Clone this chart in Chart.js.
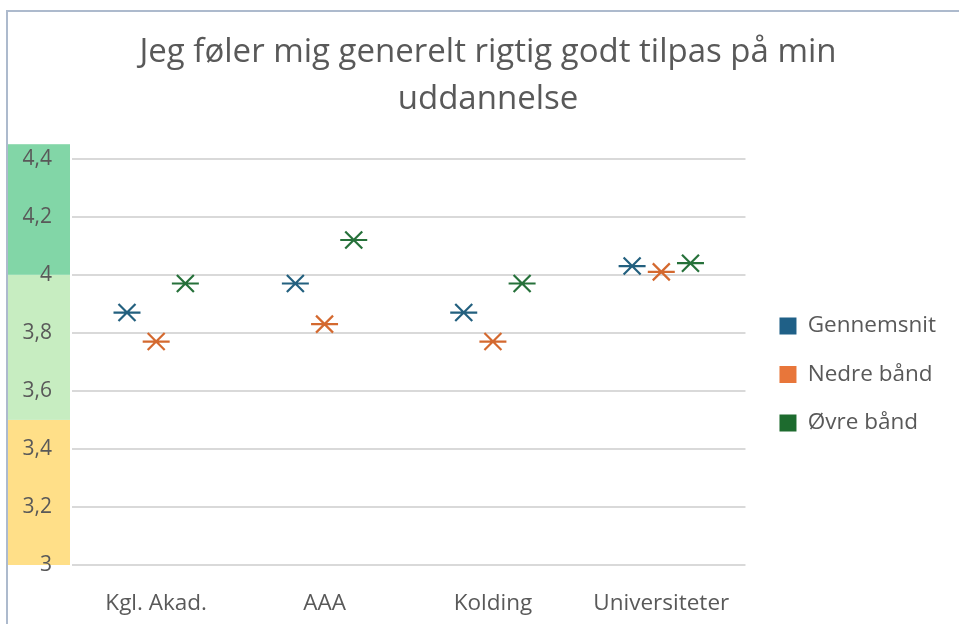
<!DOCTYPE html>
<html>
<head>
<meta charset="utf-8">
<script src="https://cdn.jsdelivr.net/npm/chart.js@4.4.1/dist/chart.umd.min.js"></script>
<style>
  html, body { margin: 0; padding: 0; background: #fff; }
  #wrap { position: relative; width: 959px; height: 624px; }
</style>
</head>
<body>
<div id="wrap"><canvas id="chart" width="959" height="624"></canvas></div>
<script>
// Data
const categories = ['Kgl. Akad.', 'AAA', 'Kolding', 'Universiteter'];
const gennemsnit = [3.87, 3.97, 3.87, 4.03];
const nedreBaand = [3.77, 3.83, 3.77, 4.01];
const oevreBaand = [3.97, 4.12, 3.97, 4.04];
const seriesNames = ['Gennemsnit', 'Nedre bånd', 'Øvre bånd'];
const seriesColors = ['#23607f', '#d4692f', '#26713a'];
const legendColors = ['#1f6087', '#e8763a', '#1d6b2e'];

// Coloured bands behind the y axis labels
const bandEdges = [3, 3.5, 4, 4.45];
const bandColors = ['#ffdf88', '#c7edc1', '#82d6a7'];

const yMin = 3, yMax = 4.4, yStep = 0.2;
const textColor = '#595959';
const fontFamily = '"Open Sans", "Noto Sans", sans-serif';

const framePlugin = {
    id: 'frame',
    afterLayout(chart) {
        // nudge legend and title to where the original sits
        const lg = chart.legend;
        lg.left += 8; lg.right += 8;
        lg.top += 66; lg.bottom += 66;
        const tb = chart.titleBlock;
        tb.left += 12; tb.right += 12;
    },
    beforeDraw(chart) {
        const ctx = chart.ctx;
        const y = chart.scales.y;
        ctx.save();
        // outer frame (top + left only)
        ctx.strokeStyle = '#adbacd';
        ctx.lineWidth = 2;
        ctx.beginPath();
        ctx.moveTo(7, chart.height);
        ctx.lineTo(7, 11);
        ctx.lineTo(chart.width, 11);
        ctx.stroke();
        // bands
        for (let i = 0; i < bandColors.length; i++) {
            const top = y.getPixelForValue(bandEdges[i + 1]);
            const bottom = y.getPixelForValue(bandEdges[i]);
            ctx.fillStyle = bandColors[i];
            ctx.fillRect(8, top, chart.chartArea.left - 10, bottom - top);
        }
        ctx.restore();
    }
};

const starPlugin = {
    id: 'stars',
    afterDatasetsDraw(chart) {
        const ctx = chart.ctx;
        ctx.save();
        ctx.lineWidth = 2.2;
        ctx.lineCap = 'butt';
        chart.data.datasets.forEach((ds, di) => {
            const meta = chart.getDatasetMeta(di);
            ctx.strokeStyle = seriesColors[di];
            meta.data.forEach(el => {
                const x = el.x, y = el.y;
                ctx.beginPath();
                ctx.moveTo(x - 13.5, y); ctx.lineTo(x + 13.5, y);
                ctx.moveTo(x - 8.5, y - 8.5); ctx.lineTo(x + 8.5, y + 8.5);
                ctx.moveTo(x - 8.5, y + 8.5); ctx.lineTo(x + 8.5, y - 8.5);
                ctx.stroke();
            });
        });
        ctx.restore();
    }
};

const allSeries = [gennemsnit, nedreBaand, oevreBaand];

new Chart(document.getElementById('chart'), {
    type: 'bar',
    data: {
        labels: categories,
        datasets: allSeries.map((vals, i) => ({
            label: seriesNames[i],
            data: vals,
            backgroundColor: 'rgba(0,0,0,0)',
            borderWidth: 0,
            categoryPercentage: 0.52,
            barPercentage: 1
        }))
    },
    options: {
        responsive: false,
        animation: false,
        events: [],
        layout: { padding: { left: 14, right: 21, top: 0, bottom: 7 } },
        plugins: {
            title: {
                display: true,
                text: ['Jeg føler mig generelt rigtig godt tilpas på min', 'uddannelse'],
                color: textColor,
                font: { family: fontFamily, size: 33, weight: 'normal', lineHeight: 1.42 },
                padding: { top: 29, bottom: 36 }
            },
            legend: {
                position: 'right',
                labels: {
                    color: textColor,
                    font: { family: fontFamily, size: 22.5 },
                    boxWidth: 17,
                    boxHeight: 17,
                    padding: 26,
                    generateLabels: chart => seriesNames.map((name, i) => ({
                        text: name,
                        fillStyle: legendColors[i],
                        strokeStyle: legendColors[i],
                        lineWidth: 0,
                        fontColor: textColor,
                        datasetIndex: i
                    }))
                }
            },
            tooltip: { enabled: false }
        },
        scales: {
            x: {
                afterFit(scale) { scale.height = 52; },
                grid: { display: false, drawTicks: false },
                border: { display: false },
                ticks: {
                    color: textColor,
                    font: { family: fontFamily, size: 22.5 },
                    padding: 25,
                    maxRotation: 0
                }
            },
            y: {
                min: yMin,
                max: yMax,
                afterFit(scale) { scale.width = 58; },
                grid: { color: '#d9d9d9', lineWidth: 2, drawTicks: false },
                border: { display: false },
                ticks: {
                    stepSize: yStep,
                    color: textColor,
                    font: { family: fontFamily, size: 21 },
                    padding: 20,
                    callback: v => (Math.round(v * 10) / 10).toString().replace('.', ',')
                }
            }
        }
    },
    plugins: [framePlugin, starPlugin]
});
</script>
</body>
</html>
